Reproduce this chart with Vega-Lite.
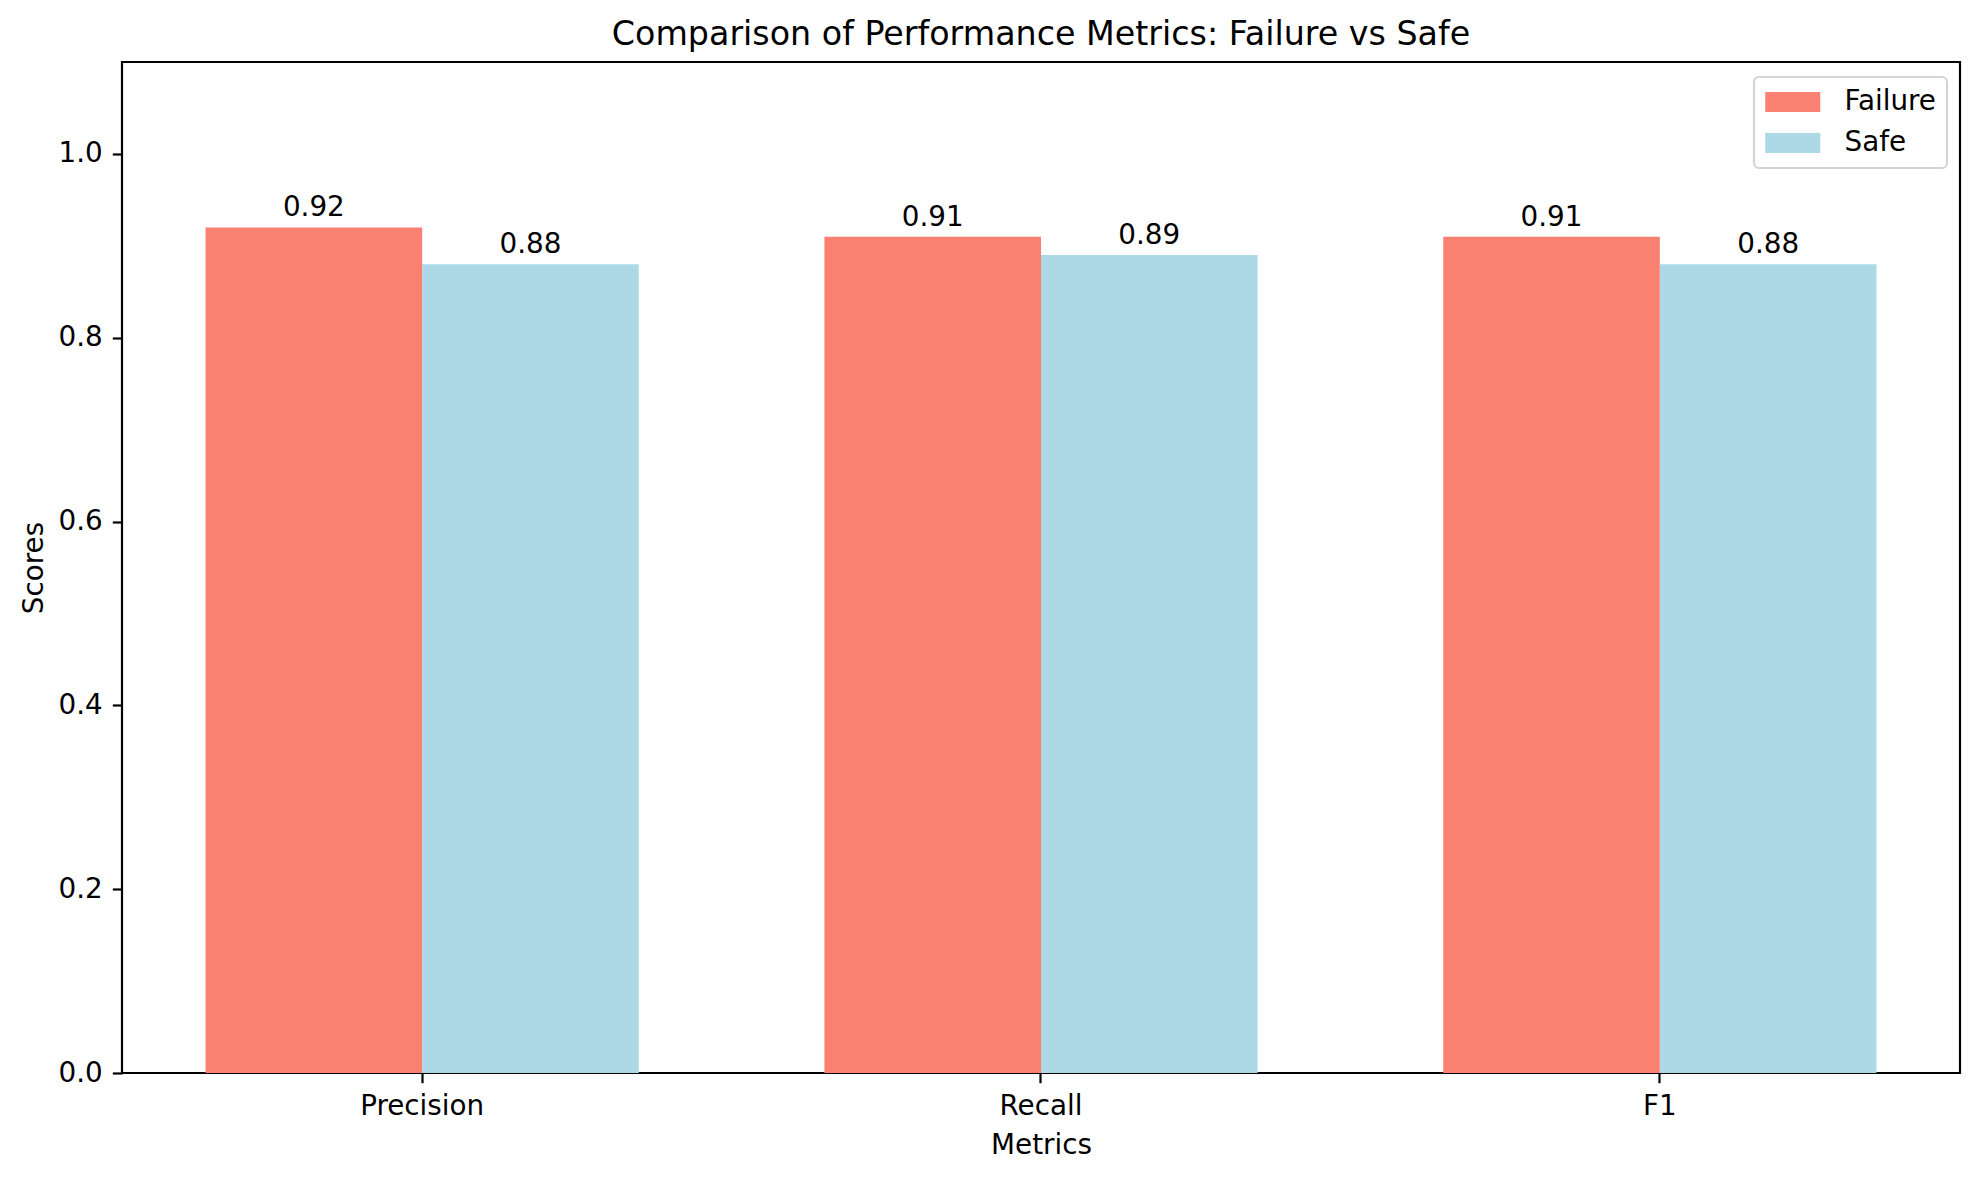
{
  "$schema": "https://vega.github.io/schema/vega-lite/v6.json",
  "autosize": {"type": "none"},
  "padding": {"left": 122, "top": 62, "right": 19, "bottom": 107},
  "width": 1838,
  "height": 1011,
  "background": "white",
  "title": {
    "text": "Comparison of Performance Metrics: Failure vs Safe",
    "fontSize": 33.3,
    "fontWeight": "normal",
    "font": "DejaVu Sans",
    "color": "black",
    "anchor": "middle",
    "baseline": "alphabetic",
    "offset": 17,
    "dy": 33
  },
  "data": {
    "values": [
      {"Metric": "Precision", "Group": "Failure", "Score": 0.92},
      {"Metric": "Precision", "Group": "Safe", "Score": 0.88},
      {"Metric": "Recall", "Group": "Failure", "Score": 0.91},
      {"Metric": "Recall", "Group": "Safe", "Score": 0.89},
      {"Metric": "F1", "Group": "Failure", "Score": 0.91},
      {"Metric": "F1", "Group": "Safe", "Score": 0.88}
    ]
  },
  "encoding": {
    "x": {
      "field": "Metric",
      "type": "nominal",
      "sort": ["Precision", "Recall", "F1"],
      "scale": {"paddingInner": 0.3, "paddingOuter": 0.135},
      "axis": {
        "title": "Metrics",
        "labelAngle": 0,
        "labelFontSize": 27.8,
        "labelColor": "black",
        "labelPadding": 10,
        "tickSize": 9.7,
        "tickWidth": 2.2,
        "tickColor": "black",
        "domain": false,
        "titleFontSize": 27.8,
        "titleFontWeight": "normal",
        "titleColor": "black",
        "titleX": 919,
        "titleY": 72,
        "titleBaseline": "middle",
        "titleAlign": "center"
      }
    },
    "xOffset": {
      "field": "Group",
      "type": "nominal",
      "sort": ["Failure", "Safe"],
      "scale": {"paddingInner": 0, "paddingOuter": 0}
    },
    "y": {
      "field": "Score",
      "type": "quantitative",
      "scale": {"domain": [0, 1.1], "nice": false, "zero": true},
      "axis": {
        "title": "Scores",
        "values": [0, 0.2, 0.4, 0.6, 0.8, 1.0],
        "format": ".1f",
        "grid": false,
        "labelFontSize": 27.8,
        "labelColor": "black",
        "labelPadding": 10,
        "tickSize": 9.7,
        "tickWidth": 2.2,
        "tickColor": "black",
        "domain": false,
        "titleFontSize": 27.8,
        "titleFontWeight": "normal",
        "titleColor": "black",
        "titleX": -88,
        "titleY": 505.5,
        "titleAngle": 270,
        "titleBaseline": "middle",
        "titleAlign": "center"
      }
    }
  },
  "layer": [
    {
      "mark": {"type": "bar", "cornerRadius": 0},
      "encoding": {
        "color": {
          "field": "Group",
          "type": "nominal",
          "scale": {"domain": ["Failure", "Safe"], "range": ["#FA8072", "#ADD8E6"]},
          "legend": {
            "title": null,
            "orient": "none",
            "legendX": 1632,
            "legendY": 15,
            "symbolType": "M-1,-0.72L3,-0.72L3,0.72L-1,0.72Z",
            "symbolSize": 756,
            "symbolStrokeWidth": 0,
            "symbolOpacity": 1,
            "labelFontSize": 27.8,
            "labelColor": "black",
            "labelOffset": 51.5,
            "rowPadding": 13,
            "padding": 11,
            "strokeColor": "#d5d5d5",
            "cornerRadius": 5,
            "fillColor": "white"
          }
        }
      }
    },
    {
      "mark": {
        "type": "text",
        "baseline": "alphabetic",
        "align": "center",
        "dy": -11,
        "fontSize": 27.8,
        "color": "black"
      },
      "encoding": {
        "text": {"field": "Score", "type": "quantitative", "format": ".2f"}
      }
    }
  ],
  "config": {
    "font": "DejaVu Sans",
    "view": {"stroke": "black", "strokeWidth": 2.2},
    "axis": {"labelFont": "DejaVu Sans", "titleFont": "DejaVu Sans"},
    "legend": {"labelFont": "DejaVu Sans", "strokeWidth": 2.2}
  }
}
